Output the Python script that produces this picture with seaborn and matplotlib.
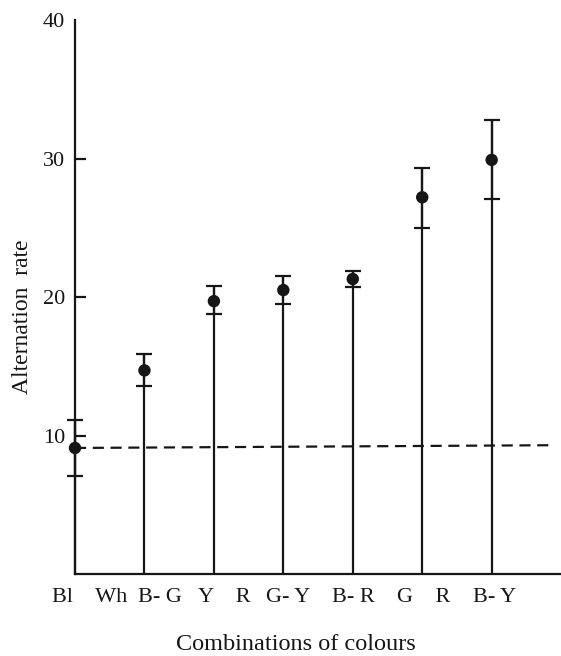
import numpy as np
import pandas as pd
import seaborn as sns
import matplotlib.pyplot as plt
import matplotlib.transforms as mtransforms

# colour combinations and alternation rates
labels = ["Bl    Wh", "B- G", "Y    R", "G- Y", "B- R", "G    R", "B- Y"]
means = [9.1, 14.7, 19.7, 20.5, 21.3, 27.2, 29.9]
upper = [11.1, 15.9, 20.8, 21.5, 21.9, 29.3, 32.8]
lower = [7.1, 13.6, 18.8, 19.5, 20.7, 25.0, 27.1]
chance = [9.1, 9.3]  # dashed reference line, left and right end

sns.set_style("ticks")
plt.rcParams['font.family'] = ['Liberation Serif', 'DejaVu Serif']
ink = "#161616"

df = pd.DataFrame({"pos": np.arange(len(labels)), "mean": means,
                   "upper": upper, "lower": lower})

fig = plt.figure(figsize=(5.61, 6.56), dpi=100)
ax = fig.add_axes([0.1337, 0.125, 0.864, 0.8445])

# stems from zero up to the top of each error bar
ax.vlines(df["pos"], 0, df["upper"], color=ink, lw=1.6, clip_on=False)
ax.errorbar(df["pos"], df["mean"],
            yerr=[df["mean"] - df["lower"], df["upper"] - df["mean"]],
            fmt="none", ecolor=ink, elinewidth=1.6, capsize=5.5,
            capthick=1.6, clip_on=False)
sns.scatterplot(data=df, x="pos", y="mean", color=ink, s=80,
                edgecolor="none", zorder=5, clip_on=False, ax=ax)

ax.plot([0, 6.9], chance, ls=(0, (5, 3)), color=ink, lw=1.6)

ax.set_xlim(0, 6.98)
ax.set_ylim(0, 40)
ax.set_yticks([10, 20, 30, 40])
ax.set_xticks(df["pos"])
ax.set_xticklabels(labels)
ax.tick_params(axis="y", direction="in", length=8, width=1.6, labelsize=16,
               pad=7, colors=ink)
ax.tick_params(axis="x", length=0, labelsize=16, pad=10, colors=ink)
ax.yaxis.get_major_ticks()[-1].tick1line.set_visible(False)

# nudge category labels to where they sit in the original
shifts = [15, 15, 10, 5, 1, 1, 3]
for lab, dx in zip(ax.get_xticklabels(), shifts):
    lab.set_transform(lab.get_transform() +
                      mtransforms.ScaledTranslation(dx / 100, 0, fig.dpi_scale_trans))

sns.despine(ax=ax)
for s in ["left", "bottom"]:
    ax.spines[s].set_linewidth(1.6)
    ax.spines[s].set_color(ink)

ax.set_xlabel("Combinations of colours", fontsize=17.5, color=ink)
ax.set_ylabel("Alternation  rate", fontsize=17, color=ink)
ax.xaxis.set_label_coords(0.456, -0.108)
ax.yaxis.set_label_coords(-0.087, 0.464)

fig.savefig("out.png", dpi=100)
